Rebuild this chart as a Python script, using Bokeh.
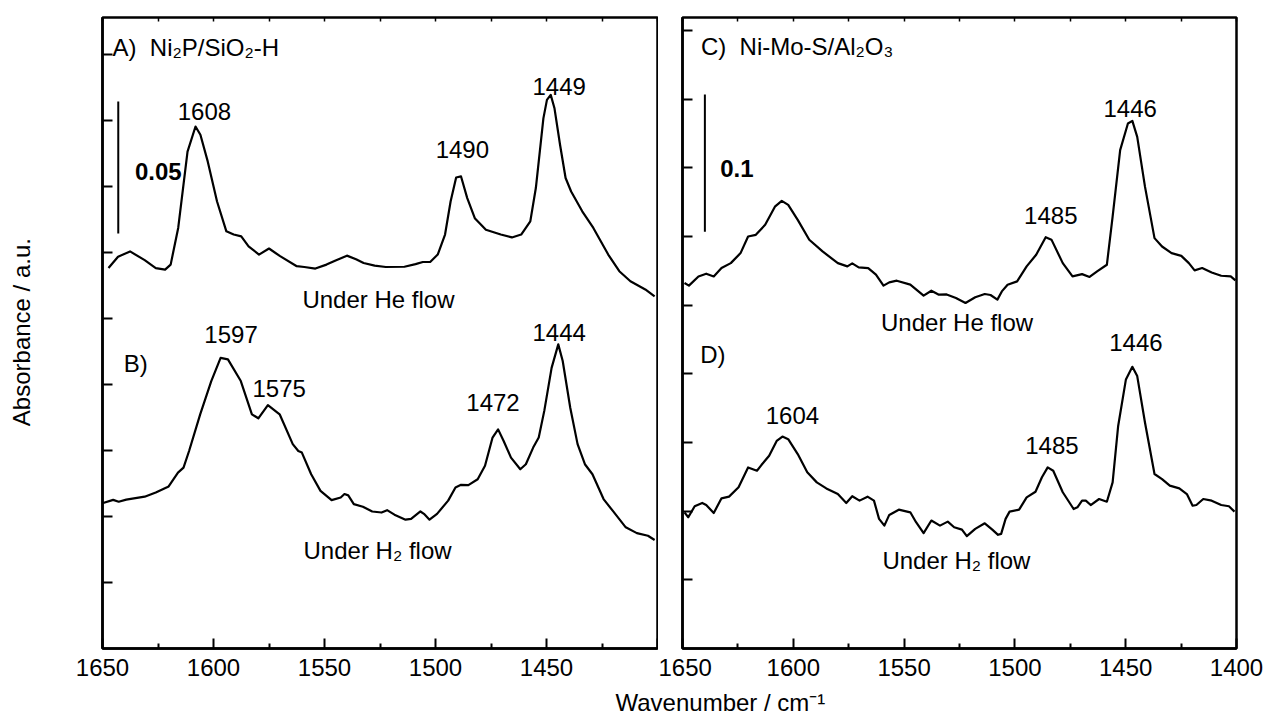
import numpy as np
from bokeh.plotting import figure
from bokeh.layouts import row, column
from bokeh.models import Range1d, FixedTicker, LinearAxis, CustomJSTickFormatter
from bokeh.core.properties import value
from bokeh.embed import file_html
from bokeh.resources import INLINE

# ---------------- data ----------------
# Panel A: Ni2P/SiO2-H under He flow
A_wn = [1647.3, 1643.0, 1637.6, 1631.0, 1626.0, 1621.8, 1619.3, 1615.9, 1611.7, 1608.1,
        1605.9, 1602.6, 1598.4, 1594.2, 1590.9, 1587.5, 1584.2, 1579.5, 1575.0, 1570.0,
        1562.5, 1559.1, 1554.1, 1549.1, 1545.0, 1539.9, 1535.8, 1532.4, 1527.4, 1522.4,
        1514.0, 1509.0, 1505.7, 1502.4, 1499.0, 1495.7, 1493.2, 1490.7, 1488.5, 1485.7,
        1482.3, 1477.3, 1470.6, 1465.6, 1461.4, 1457.3, 1454.8, 1451.4, 1449.8, 1448.1,
        1446.4, 1443.9, 1441.4, 1438.9, 1433.9, 1428.9, 1422.2, 1417.2, 1412.2, 1405.5,
        1401.3]
A_abs = [0.1441, 0.1484, 0.1504, 0.1471, 0.1441, 0.1435, 0.1454, 0.1593, 0.1882, 0.1977,
         0.1946, 0.1845, 0.1693, 0.1580, 0.1568, 0.1561, 0.1523, 0.1492, 0.1515, 0.1486,
         0.1448, 0.1445, 0.1439, 0.1454, 0.1470, 0.1488, 0.1474, 0.1460, 0.1450, 0.1445,
         0.1446, 0.1456, 0.1464, 0.1464, 0.1492, 0.1568, 0.1693, 0.1784, 0.1788, 0.1706,
         0.1630, 0.1586, 0.1568, 0.1557, 0.1568, 0.1618, 0.1744, 0.2008, 0.2078, 0.2097,
         0.2046, 0.1908, 0.1782, 0.1731, 0.1656, 0.1593, 0.1492, 0.1429, 0.1391, 0.1360,
         0.1334]

# Panel B: Ni2P/SiO2-H under H2 flow
B_wn = [1649.7, 1645.2, 1642.7, 1639.3, 1631.0, 1626.0, 1620.2, 1616.0, 1613.5, 1611.0,
        1606.0, 1601.0, 1596.8, 1593.5, 1587.7, 1582.7, 1579.8, 1575.5, 1570.2, 1564.3,
        1561.8, 1560.2, 1556.0, 1551.8, 1546.8, 1542.7, 1541.0, 1539.3, 1536.8, 1532.7,
        1528.5, 1524.3, 1521.8, 1518.5, 1513.5, 1511.0, 1506.8, 1505.2, 1502.7, 1499.3,
        1494.3, 1491.0, 1488.5, 1485.2, 1481.0, 1477.7, 1474.3, 1471.8, 1469.3, 1466.0,
        1461.8, 1459.3, 1456.0, 1453.5, 1451.0, 1447.7, 1444.7, 1442.7, 1439.3, 1436.0,
        1432.7, 1429.3, 1424.3, 1420.2, 1414.3, 1409.3, 1404.3, 1401.3]
B_abs = [0.0551, 0.0563, 0.0556, 0.0564, 0.0575, 0.0591, 0.0614, 0.0666, 0.0685, 0.0748,
         0.0887, 0.1013, 0.1101, 0.1095, 0.1013, 0.0887, 0.0872, 0.0922, 0.0887, 0.0774,
         0.0748, 0.0742, 0.0660, 0.0597, 0.0562, 0.0572, 0.0585, 0.0580, 0.0547, 0.0537,
         0.0519, 0.0515, 0.0524, 0.0507, 0.0488, 0.0491, 0.0519, 0.0510, 0.0488, 0.0510,
         0.0560, 0.0610, 0.0620, 0.0619, 0.0641, 0.0692, 0.0799, 0.0830, 0.0786, 0.0723,
         0.0679, 0.0698, 0.0761, 0.0799, 0.0900, 0.1063, 0.1152, 0.1089, 0.0912, 0.0774,
         0.0698, 0.0660, 0.0566, 0.0522, 0.0459, 0.0437, 0.0427, 0.0411]

# Panel C: Ni-Mo-S/Al2O3 under He flow
C_wn = [1649.1, 1647.1, 1642.8, 1639.3, 1635.9, 1632.4, 1628.2, 1623.8, 1620.4, 1616.9,
        1612.7, 1608.3, 1605.2, 1602.3, 1598.0, 1592.8, 1586.8, 1579.9, 1575.6, 1573.4,
        1570.5, 1566.2, 1562.7, 1559.3, 1556.7, 1553.3, 1547.2, 1541.2, 1537.7, 1534.3,
        1530.8, 1526.6, 1522.3, 1517.9, 1513.6, 1511.0, 1507.9, 1505.9, 1503.3, 1499.0,
        1494.7, 1490.4, 1486.1, 1483.5, 1478.4, 1474.0, 1469.7, 1466.3, 1462.9, 1458.5,
        1455.9, 1452.5, 1449.0, 1447.0, 1444.8, 1441.3, 1437.0, 1433.6, 1429.3, 1424.9,
        1421.5, 1418.9, 1415.5, 1411.2, 1406.9, 1402.6, 1400.5]
C_abs = [0.2662, 0.2643, 0.2710, 0.2730, 0.2710, 0.2771, 0.2807, 0.2880, 0.3001, 0.3013,
         0.3086, 0.3218, 0.3260, 0.3231, 0.3122, 0.2977, 0.2892, 0.2807, 0.2783, 0.2805,
         0.2776, 0.2771, 0.2723, 0.2643, 0.2667, 0.2679, 0.2650, 0.2570, 0.2606, 0.2577,
         0.2579, 0.2553, 0.2517, 0.2558, 0.2582, 0.2575, 0.2541, 0.2601, 0.2650, 0.2674,
         0.2783, 0.2868, 0.2996, 0.2978, 0.2807, 0.2710, 0.2727, 0.2706, 0.2747, 0.2795,
         0.3146, 0.3630, 0.3824, 0.3843, 0.3727, 0.3364, 0.2989, 0.2928, 0.2880, 0.2860,
         0.2807, 0.2754, 0.2771, 0.2739, 0.2715, 0.2710, 0.2681]

# Panel D: Ni-Mo-S/Al2O3 under H2 flow
D_wn = [1649.1, 1647.4, 1644.5, 1641.1, 1639.3, 1635.9, 1632.4, 1629.0, 1624.7, 1620.4,
        1616.4, 1614.4, 1610.9, 1607.5, 1604.9, 1602.3, 1598.0, 1593.7, 1589.4, 1585.1,
        1579.9, 1576.1, 1573.4, 1570.1, 1566.5, 1563.6, 1561.3, 1558.9, 1556.7, 1552.4,
        1547.2, 1544.6, 1541.2, 1537.7, 1533.8, 1530.3, 1527.4, 1523.9, 1521.7, 1517.9,
        1513.6, 1510.2, 1507.6, 1506.2, 1504.2, 1502.4, 1498.1, 1494.7, 1490.7, 1487.8,
        1485.2, 1482.7, 1478.4, 1473.5, 1471.8, 1469.7, 1468.0, 1465.8, 1462.0, 1458.5,
        1455.9, 1453.4, 1449.9, 1447.0, 1444.8, 1441.3, 1437.0, 1433.6, 1430.1, 1425.8,
        1422.4, 1419.8, 1418.1, 1415.0, 1411.2, 1406.9, 1403.4, 1400.9]
D_abs = [0.0992, 0.0956, 0.1036, 0.1060, 0.1045, 0.0987, 0.1094, 0.1106, 0.1174, 0.1319,
         0.1295, 0.1336, 0.1404, 0.1512, 0.1544, 0.1525, 0.1416, 0.1283, 0.1210, 0.1166,
         0.1125, 0.1060, 0.1109, 0.1077, 0.1106, 0.1077, 0.0944, 0.0895, 0.0973, 0.1011,
         0.0992, 0.0920, 0.0840, 0.0932, 0.0895, 0.0924, 0.0883, 0.0866, 0.0818, 0.0871,
         0.0912, 0.0866, 0.0828, 0.0835, 0.0944, 0.0997, 0.1011, 0.1101, 0.1142, 0.1247,
         0.1319, 0.1295, 0.1138, 0.1016, 0.1028, 0.1077, 0.1077, 0.1045, 0.1089, 0.1069,
         0.1210, 0.1621, 0.1960, 0.2052, 0.1984, 0.1646, 0.1271, 0.1234, 0.1186, 0.1166,
         0.1125, 0.1040, 0.1045, 0.1089, 0.1077, 0.1045, 0.1036, 0.0997]

# peak assignments (cm-1)
A_peaks = [1608, 1490, 1449]
B_peaks = [1597, 1575, 1472, 1444]
C_peaks = [1446, 1485]
D_peaks = [1604, 1485, 1446]

x_major = [1650, 1600, 1550, 1500, 1450, 1400]
x_minor = [1625, 1575, 1525, 1475, 1425]
left_scale = 0.05
right_scale = 0.1

# ---------------- styling / layout ----------------
FONT = "Liberation Sans"
FS = "24px"
H_MAIN = 688


def make_panel(width, mbl, mbr, mbt, mbb, ytop, ystep, hide_last):
    p = figure(width=width, height=H_MAIN, x_range=Range1d(1650, 1400),
               y_range=Range1d(0, ytop), output_backend="svg", toolbar_location=None,
               x_axis_type=None, y_axis_type=None,
               min_border_left=mbl, min_border_right=mbr,
               min_border_top=mbt, min_border_bottom=mbb)
    p.outline_line_color = "black"
    p.outline_line_width = 2.5
    p.outline_line_alpha = 1.0
    p.background_fill_color = "white"
    p.border_fill_color = "white"

    xb = LinearAxis(ticker=FixedTicker(ticks=x_major, minor_ticks=x_minor))
    xb.major_tick_in = 10
    xb.major_tick_out = 0
    xb.minor_tick_in = 5
    xb.minor_tick_out = 0
    xb.major_tick_line_width = 2
    xb.minor_tick_line_width = 2
    xb.axis_line_width = 2.5
    xb.major_label_text_font = FONT
    xb.major_label_text_font_size = FS
    xb.major_label_text_color = "black"
    xb.major_label_standoff = 10
    if hide_last:
        xb.major_label_overrides = {1400: ""}
    p.add_layout(xb, "below")

    yt = [ystep * k for k in range(1, 10)]
    yl = LinearAxis(ticker=FixedTicker(ticks=yt),
                    formatter=CustomJSTickFormatter(code="return ''"))
    yl.major_tick_in = 10
    yl.major_tick_out = 0
    yl.major_tick_line_width = 2
    yl.axis_line_width = 2.5
    yl.major_label_text_font_size = "0px"
    yl.major_label_standoff = 0
    p.add_layout(yl, "left")

    xt = LinearAxis(ticker=FixedTicker(ticks=x_major + x_minor),
                    formatter=CustomJSTickFormatter(code="return ''"))
    xt.major_tick_in = 4
    xt.major_tick_out = 0
    xt.major_tick_line_width = 1.5
    xt.axis_line_color = None
    xt.major_label_text_font_size = "0px"
    xt.major_label_standoff = 0
    p.add_layout(xt, "above")
    return p


def add_texts(p, items, align="center", bold=False):
    for txt, x, y in items:
        p.text(x=[x], y=[y], text=[txt], text_font=value(FONT), text_font_size=FS,
               text_align=align, text_baseline="middle", text_color="black",
               text_font_style="bold" if bold else "normal")


# left panel (A, B)
pL = make_panel(612, 56, 1, 14, H_MAIN - 648, 0.239, 0.025, True)
pL.line(A_wn, A_abs, line_color="black", line_width=2.2, line_join="round")
pL.line(B_wn, B_abs, line_color="black", line_width=2.2, line_join="round")
add_texts(pL, [(str(A_peaks[0]), 1604.1, 0.2035), (str(A_peaks[1]), 1487.9, 0.1890),
               (str(A_peaks[2]), 1444.3, 0.2129),
               (str(B_peaks[0]), 1592.1, 0.1191), (str(B_peaks[1]), 1570.4, 0.0985),
               (str(B_peaks[2]), 1474.1, 0.0932), (str(B_peaks[3]), 1444.3, 0.1196),
               ("Under He flow", 1525.7, 0.1321), ("Under H\u2082 flow", 1526.1, 0.0372)])
add_texts(pL, [("A) \u00a0Ni\u2082P/SiO\u2082-H", 1645.5, 0.2275), ("B)", 1640.4, 0.1079)],
          align="left")
add_texts(pL, [(str(left_scale), 1635.4, 0.1806)], align="left", bold=True)
pL.segment(x0=[1642.9], y0=[0.1572], x1=[1642.9], y1=[0.1572 + left_scale],
           line_color="black", line_width=2)

# right panel (C, D)
pR = make_panel(610, 24, 32, 17, H_MAIN - 650, 0.4596, 0.05, False)
pR.line(C_wn, C_abs, line_color="black", line_width=2.2, line_join="round")
pR.line(D_wn, D_abs, line_color="black", line_width=2.2, line_join="round")
add_texts(pR, [(str(C_peaks[0]), 1448.0, 0.3933), (str(C_peaks[1]), 1483.8, 0.3152),
               (str(D_peaks[0]), 1600.4, 0.1700), (str(D_peaks[1]), 1483.3, 0.1480),
               (str(D_peaks[2]), 1445.4, 0.2227),
               ("Under He flow", 1526.1, 0.2378), ("Under H\u2082 flow", 1526.4, 0.0641)])
add_texts(pR, [("C) \u00a0Ni-Mo-S/Al\u2082O\u2083", 1641.7, 0.4387), ("D)", 1642.0, 0.2142)],
          align="left")
add_texts(pR, [(str(right_scale), 1633.0, 0.3497)], align="left", bold=True)
pR.segment(x0=[1639.9], y0=[0.3035], x1=[1639.9], y1=[0.3035 + right_scale],
           line_color="black", line_width=2)

# y-axis title strip
sY = figure(width=46, height=H_MAIN, x_range=Range1d(0, 46), y_range=Range1d(0, H_MAIN),
            output_backend="svg", toolbar_location=None, x_axis_type=None, y_axis_type=None,
            min_border=0, outline_line_color=None)
sY.text(x=[21], y=[H_MAIN - 343], text=["Absorbance / a.u."], angle=np.pi / 2,
        text_font=value(FONT), text_font_size=FS, text_align="center",
        text_baseline="middle", text_color="black")

# x-axis title strip
H_X = 715 - H_MAIN
sX = figure(width=1268, height=H_X, x_range=Range1d(0, 1268), y_range=Range1d(0, H_X),
            output_backend="svg", toolbar_location=None, x_axis_type=None, y_axis_type=None,
            min_border=0, outline_line_color=None)
sX.text(x=[615], y=[H_X / 2], text=["Wavenumber / cm\u207b\u00b9"],
        text_font=value(FONT), text_font_size=FS, text_align="left",
        text_baseline="middle", text_color="black")

layout = column(row(sY, pL, pR, spacing=0), sX, spacing=0)
open("out.html", "w").write(file_html(layout, INLINE))
